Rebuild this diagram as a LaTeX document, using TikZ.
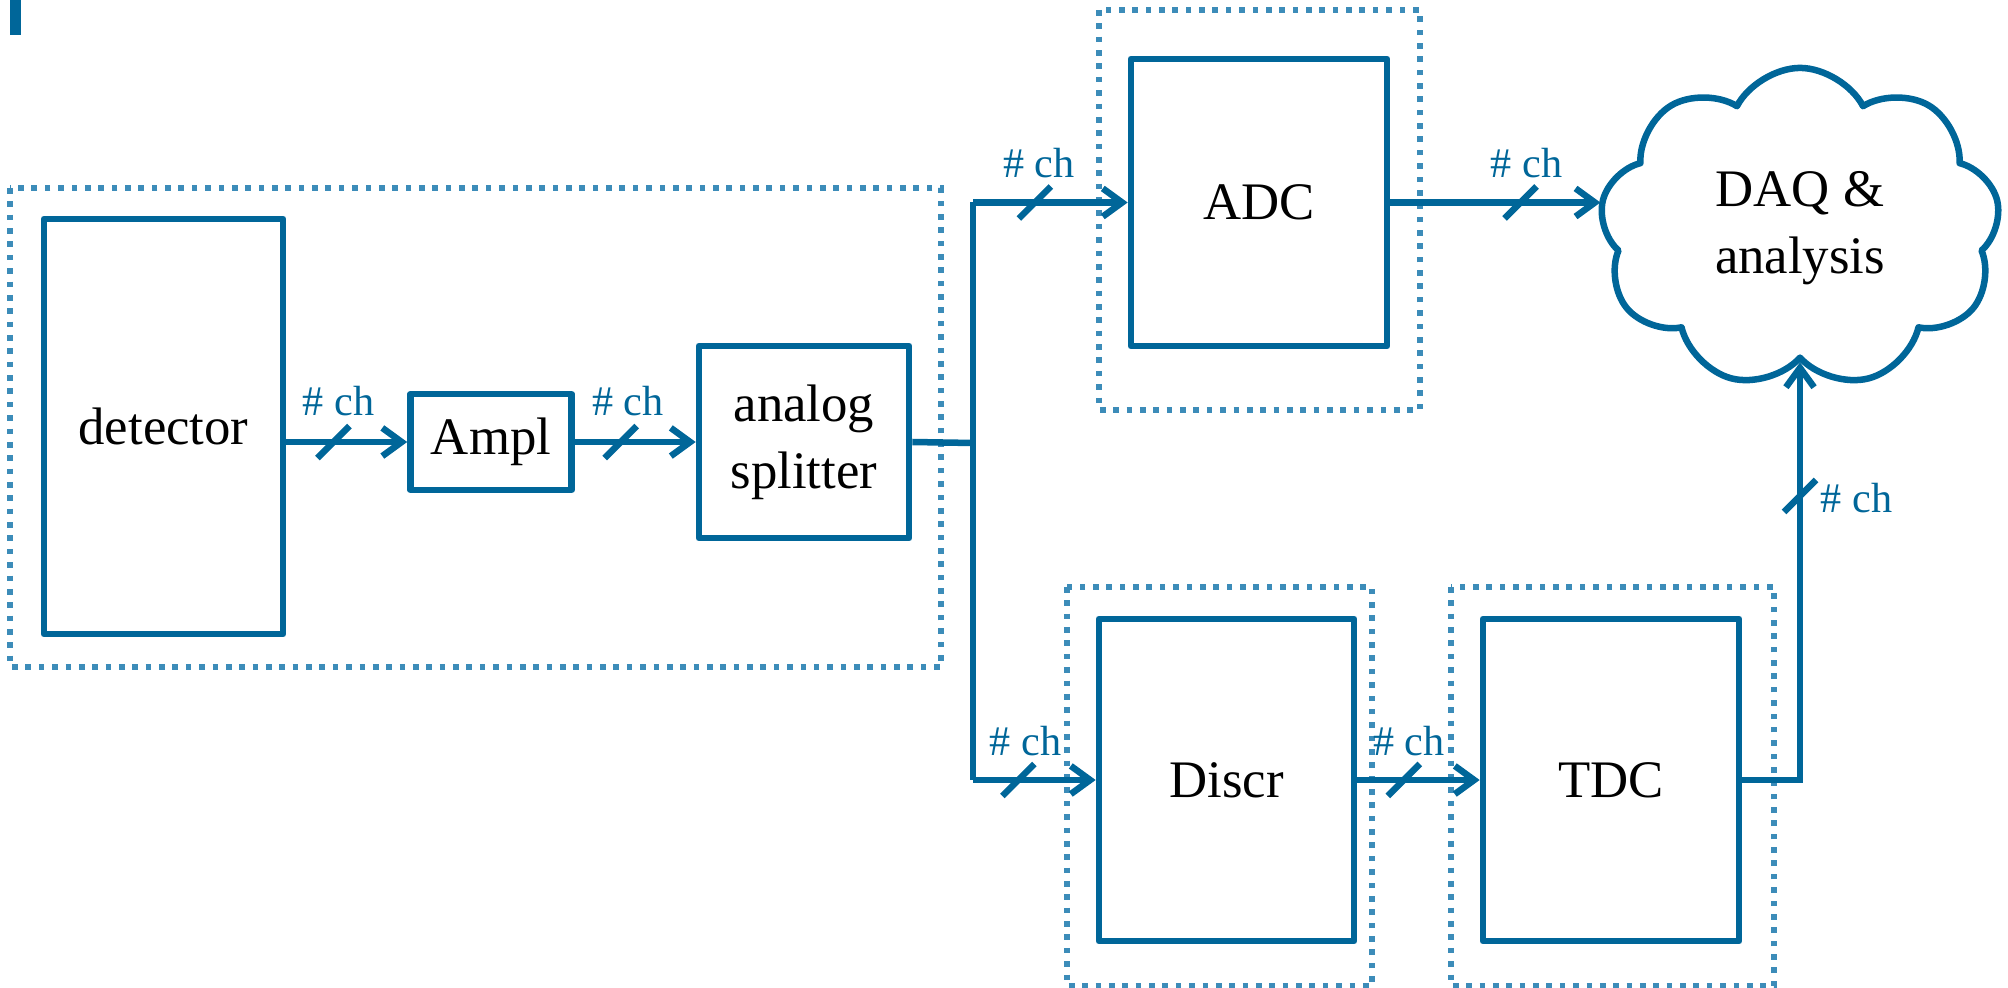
\documentclass[tikz,border=0pt]{standalone}
\usepackage{fontspec}
\setmainfont{Liberation Serif}
\usetikzlibrary{arrows.meta,calc,shapes.symbols}

\definecolor{lineblue}{RGB}{0,102,153}
\definecolor{dotblue}{RGB}{60,140,185}

\tikzset{
  block/.style={draw=lineblue, line width=1.85pt, line join=round, inner sep=0pt,
    align=center, font=\fontsize{15}{19}\selectfont},
  wire/.style={draw=lineblue, line width=1.85pt},
  arrow/.style={wire, -{Straight Barb[length=5.5pt,width=8pt]}},
  group/.style={draw=dotblue, line width=1.6pt, dash pattern=on 1.6pt off 2.2pt},
  chlabel/.style={text=lineblue, inner sep=0pt, font=\fontsize{12}{14}\selectfont},
}

% slash across a bus line plus its channel-count label
\newcommand{\chmark}[3][]{%
  \draw[wire] ($(#2)+(-16,16)$) -- ($(#2)+(16,-16)$);
  \node[chlabel,#1] (#2-lbl) at ($(#2)+#3$) {\# ch};}

\begin{document}
\begin{tikzpicture}[x=0.01cm,y=-0.01cm]
  \useasboundingbox (0,0) rectangle (2008,988);

  % Title bar
  \fill[lineblue] (10,0) rectangle (21,35);

  % Dotted groups
  \draw[group] (10,188) rectangle (941,667);
  \draw[group] (1099,10) rectangle (1420,410);
  \draw[group] (1067,587) rectangle (1372,986);
  \draw[group] (1451,587) rectangle (1774,986);

  % Blocks
  \node[block, minimum width=2.39cm, minimum height=4.15cm] (det) at (163.5,426.5) {detector};
  \node[block, minimum width=1.61cm, minimum height=0.96cm] (ampl) at (491,442) {Ampl};
  \node[block, minimum width=2.10cm, minimum height=1.92cm] (split) at (804,442) {analog\\splitter};
  \node[block, minimum width=2.56cm, minimum height=2.87cm] (adc) at (1259,202.5) {ADC};
  \node[block, minimum width=2.55cm, minimum height=3.22cm] (discr) at (1226.5,780) {Discr};
  \node[block, minimum width=2.56cm, minimum height=3.22cm] (tdc) at (1611,780) {TDC};
  \node[block, cloud, cloud puffs=9, cloud puff arc=125, aspect=1.25,
    minimum width=4.0cm, minimum height=3.2cm] (daq) at (1800,228) {DAQ \&\\analysis};
  \coordinate (fork) at (973,443);

  % Signal path
  \draw[arrow] (det.east |- ampl.west) -- coordinate[pos=0.39] (m1) (ampl.west);
  \draw[arrow] (ampl.east) -- coordinate[pos=0.38] (m2) (split.west);
  \draw[wire] (split.east) -- (fork);
  \draw[wire] (fork |- adc.west) -- (fork |- discr.west);
  \draw[arrow] (fork |- adc.west) -- coordinate[pos=0.4] (m3) (adc.west);
  \draw[arrow] (fork |- discr.west) -- coordinate[pos=0.37] (m4) (discr.west);
  \draw[arrow] (adc.east) -- coordinate[pos=0.62] (m5) (adc.east -| daq.west);
  \draw[arrow] (discr.east) -- coordinate[pos=0.38] (m6) (tdc.west);
  \draw[arrow] (tdc.east) -- (tdc.east -| daq.south) -- coordinate[pos=0.68] (m7) (daq.south);

  % Channel counts
  \chmark{m1}{(5,-41)}
  \chmark{m2}{(7,-41)}
  \chmark{m3}{(4,-39)}
  \chmark{m4}{(7,-39)}
  \chmark{m5}{(6,-39)}
  \chmark{m6}{(5,-39)}
  \chmark[anchor=west]{m7}{(20,2)}
\end{tikzpicture}
\end{document}
